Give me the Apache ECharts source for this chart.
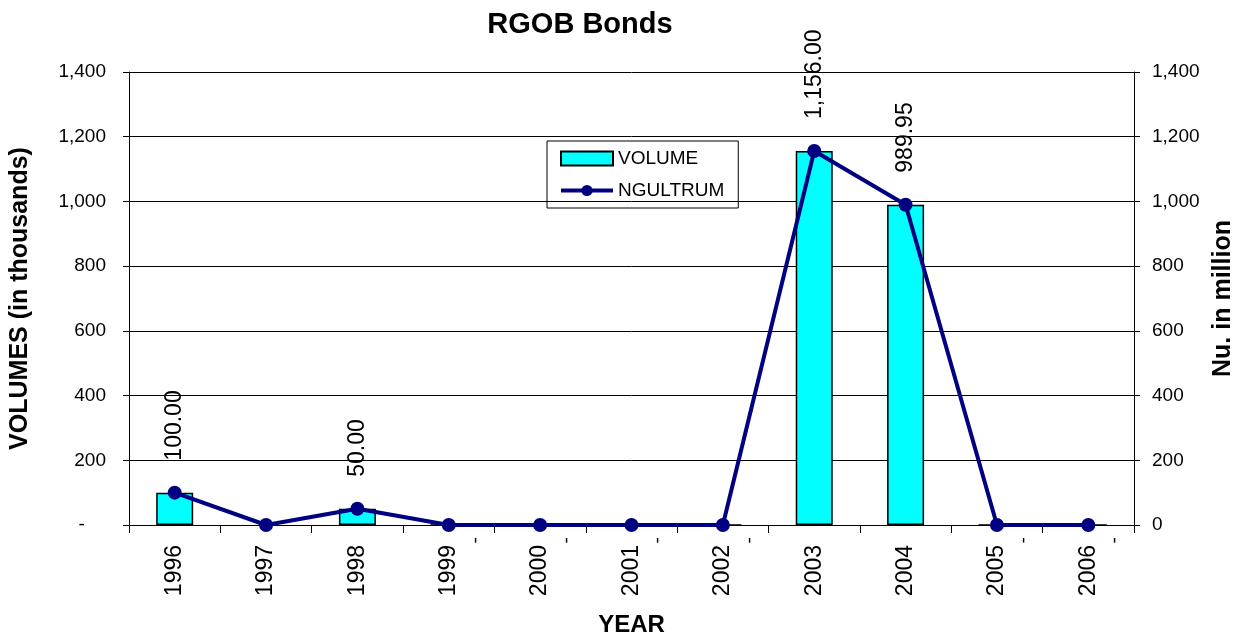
<!DOCTYPE html>
<html>
<head>
<meta charset="utf-8">
<script src="https://cdn.jsdelivr.net/npm/echarts@6/dist/echarts.min.js"></script>
<style>
  html, body { margin: 0; padding: 0; background: #fff; }
  #container { width: 1244px; height: 642px; }
</style>
</head>
<body>
<div id="container"></div>
<script>
var years = ['1996','1997','1998','1999','2000','2001','2002','2003','2004','2005','2006'];
var volume = [100, null, 50, 0, 0, 0, 0, 1156, 989.95, 0, 0];
var ngultrum = [100, 0, 50, 0, 0, 0, 0, 1156, 989.95, 0, 0];

function fmt2(v) {
    return v.toLocaleString('en-US', {minimumFractionDigits: 2, maximumFractionDigits: 2});
}

// zero values get a "-" label under the axis, others a rotated value above the bar
var volumeData = volume.map(function (v) {
    if (v === null) return null;
    if (v === 0) {
        return {
            value: 0,
            label: { show: true, position: [46, 16], rotate: 90, align: 'center', verticalAlign: 'middle', formatter: '-', fontSize: 19, color: '#000' }
        };
    }
    return {
        value: v,
        label: { show: true, position: 'top', distance: 36, rotate: 90, align: 'left', verticalAlign: 'middle', formatter: fmt2(v), fontSize: 23, color: '#000', offset: [-4, 0] }
    };
});

var myChart = echarts.init(document.getElementById('container'));
var font = 'Liberation Sans, Arial, sans-serif';
var option = {
    animation: false,
    textStyle: { fontFamily: font, color: '#000' },
    title: {
        text: 'RGOB Bonds',
        left: 575, top: 5, textAlign: 'center',
        textStyle: { fontSize: 29, fontWeight: 'bold', fontFamily: font, color: '#000' }
    },
    legend: {
        orient: 'vertical',
        left: 547, top: 141,
        itemGap: 13,
        padding: [8, 14, 8, 12],
        borderColor: '#000', borderWidth: 1,
        itemWidth: 52, itemHeight: 14,
        textStyle: { fontSize: 19, fontFamily: font, color: '#000', padding: [0, 0, 0, 0] },
        data: [
            { name: 'VOLUME', icon: 'rect' },
            { name: 'NGULTRUM', lineStyle: { width: 4, color: '#000080' } }
        ]
    },
    grid: { left: 128, right: 110, top: 72, bottom: 117 },
    xAxis: {
        type: 'category',
        data: years,
        name: 'YEAR',
        nameLocation: 'middle',
        nameGap: 88,
        nameTextStyle: { fontSize: 24, fontWeight: 'bold', fontFamily: font, color: '#000' },
        axisLine: { lineStyle: { color: '#000', width: 1 } },
        axisTick: { show: true, length: 8, lineStyle: { color: '#000' } },
        axisLabel: { rotate: 90, margin: 20, fontSize: 23, color: '#000', fontFamily: font }
    },
    yAxis: [
        {
            type: 'value', min: 0, max: 1400, interval: 200,
            name: 'VOLUMES (in thousands)',
            nameLocation: 'middle', nameGap: 96, nameRotate: 90,
            nameTextStyle: { fontSize: 25, fontWeight: 'bold', fontFamily: font, color: '#000' },
            axisLine: { show: true, lineStyle: { color: '#000' } },
            axisTick: { show: true, length: 6, lineStyle: { color: '#000' } },
            axisLabel: {
                fontSize: 19, color: '#000', fontFamily: font, margin: 23,
                formatter: function (v) { return v === 0 ? '-    ' : v.toLocaleString('en-US'); }
            },
            splitLine: { show: true, lineStyle: { color: '#000', width: 1 } }
        },
        {
            type: 'value', min: 0, max: 1400, interval: 200,
            name: 'Nu. in million',
            nameLocation: 'middle', nameGap: 76, nameRotate: 90,
            nameTextStyle: { fontSize: 25, fontWeight: 'bold', fontFamily: font, color: '#000' },
            axisLine: { show: true, lineStyle: { color: '#000' } },
            axisTick: { show: true, length: 6, lineStyle: { color: '#000' } },
            axisLabel: {
                fontSize: 19, color: '#000', fontFamily: font, margin: 18,
                formatter: function (v) { return v.toLocaleString('en-US'); }
            },
            splitLine: { show: false }
        }
    ],
    series: [
        {
            name: 'VOLUME',
            type: 'bar',
            barWidth: 37,
            yAxisIndex: 0,
            data: volumeData,
            itemStyle: { color: '#00FFFF', borderColor: '#000', borderWidth: 1.5 }
        },
        {
            name: 'NGULTRUM',
            type: 'line',
            yAxisIndex: 1,
            data: ngultrum,
            symbol: 'circle',
            symbolSize: 14,
            lineStyle: { color: '#000080', width: 4 },
            itemStyle: { color: '#000080' },
            z: 5
        }
    ]
};
myChart.setOption(option);
</script>
</body>
</html>
